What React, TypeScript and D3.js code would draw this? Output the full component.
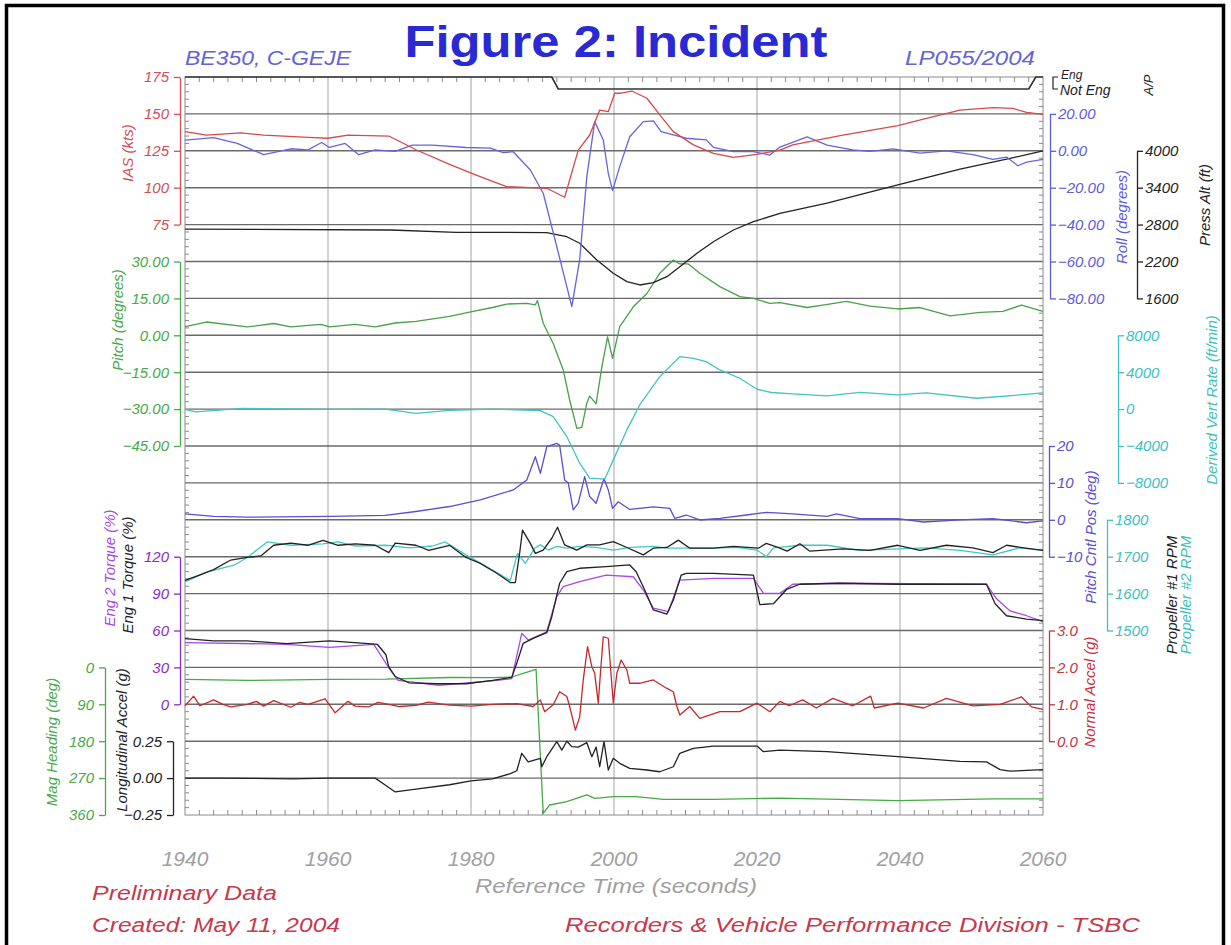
import React, { useEffect, useRef } from "react";
import * as d3 from "d3";

type Pt = [number, number];

// time (s) / value pairs
const iasData: Pt[] = [
  [1940, 138], [1943, 135.6], [1947.8, 137.2], [1951, 135.6], [1958, 133.9], [1960, 133.5],
  [1962.8, 135.6], [1968.5, 135], [1970.3, 130.6], [1972.3, 125.7], [1977, 115.8], [1980.3, 109.3],
  [1983, 104.3], [1985, 100.7], [1990.6, 99.6], [1993.1, 93.5], [1995, 125.5], [1996.6, 135.7],
  [1998, 152.6], [1999.2, 151.5], [2000.1, 164], [2001, 164], [2002.5, 165.5], [2004.6, 160.6],
  [2006.4, 149.3], [2008.3, 138], [2011.1, 129], [2013.9, 123.3], [2016.7, 120.6], [2020, 122.6],
  [2023.2, 125.5], [2025, 129], [2032, 135.6], [2039.7, 142.1], [2043.7, 147], [2048.4, 152.6],
  [2053, 154.3], [2055.8, 153.7], [2057.7, 151], [2060, 149.7],
];

const rollData: Pt[] = [
  [1940, 5.8], [1944, 7.1], [1947.3, 4.0], [1951, -2.1], [1954.8, 1.1], [1957.2, 0.5], [1959.1, 4.5],
  [1960.2, 1.8], [1962.4, 4.0], [1964.3, -2.1], [1966.6, 0.5], [1969.4, -0.3], [1971.8, 3.1],
  [1974.6, 3.1], [1979.3, 1.8], [1982.7, 1.4], [1984.5, -1.0], [1985.9, -0.5], [1988.3, -10.4],
  [1990.1, -23], [1992, -52], [1994.1, -84.5], [1995.2, -59], [1996.2, -14], [1997.3, 15.8],
  [1998.5, 5.9], [1999.2, -12.2], [1999.8, -21.6], [2000.8, -8.6], [2002.2, 7.6], [2004.1, 15.8],
  [2005.5, 16.2], [2006.6, 10.4], [2008.3, 8.6], [2010.1, 6.8], [2012.9, 5.9], [2013.9, 1.9],
  [2016.7, -0.5], [2019.5, -0.5], [2021.8, -2.3], [2023.2, 2.0], [2027, 7.6], [2029.8, 3.1],
  [2033.4, 0.5], [2035.8, -0.3], [2039, 1.1], [2042.8, -1.3], [2046.5, 0], [2050.2, -2.1],
  [2053, -4.7], [2054.9, -3.4], [2056.5, -8.1], [2057.7, -6.1], [2060, -4.7],
];

const altData: Pt[] = [
  [1940, 2728], [1968.8, 2712], [1977.9, 2675], [1983, 2675], [1990.6, 2668], [1993.4, 2603],
  [1995.2, 2496], [1997.6, 2224], [1999.9, 2008], [2001.8, 1872], [2003.6, 1818], [2005.5, 1855],
  [2007.4, 1953], [2009.2, 2115], [2011.6, 2333], [2013.9, 2522], [2016.7, 2712], [2019.5, 2847],
  [2023.2, 2984], [2029.8, 3148], [2039.7, 3447], [2048.4, 3701], [2055.4, 3875], [2060, 4000],
];

// 1 = engaged, 0 = not engaged
const apData: Pt[] = [[1940, 1], [1991.3, 1], [1992.2, 0], [2058, 0], [2059, 1], [2060, 1]];

const pitchData: Pt[] = [
  [1940, 3.5], [1943, 5.4], [1948.7, 3.4], [1952.4, 4.8], [1954.8, 3.4], [1959, 4.4], [1960.2, 3.4],
  [1963.8, 4.4], [1966.6, 3.4], [1969.4, 5.0], [1972.3, 5.7], [1977, 7.7], [1980.3, 9.7], [1983, 11.3],
  [1985, 12.7], [1987.8, 13], [1989, 12.4], [1989.3, 14.1], [1990.1, 4.9], [1991.5, -3.3],
  [1992.9, -14.1], [1993.8, -26.3], [1994.8, -37.8], [1995.5, -37.4], [1996.2, -27.6], [1996.6, -24.7],
  [1997.5, -27.9], [1998.3, -12.8], [1999.1, -0.6], [1999.8, -9.4], [2000.8, 3.5], [2002.7, 11.6],
  [2004.6, 17], [2006.4, 25.2], [2008.3, 30.6], [2009.2, 29], [2010.4, 29], [2012, 25.2],
  [2014.8, 19.8], [2017.6, 15.7], [2019.5, 15.0], [2021.8, 13], [2023.2, 13.3], [2027, 11.3],
  [2029.2, 12.3], [2032.5, 13.8], [2035.8, 11.9], [2039.7, 10.7], [2042.8, 11.3], [2047, 7.9],
  [2051.2, 9.3], [2054.4, 9.7], [2057, 12.3], [2060, 9.7],
];

const vertRateData: Pt[] = [
  [1940, -36], [1941.5, -300], [1948, 72], [1960, -36], [1968, 0], [1972.3, -458], [1977, -140],
  [1983, 0], [1989.7, -165], [1991.5, -815], [1993.4, -2980], [1995.2, -5862], [1996.6, -7487],
  [1998.7, -7595], [1999.9, -5505], [2001.8, -2256], [2003.6, 452], [2006.4, 3516], [2009.2, 5683],
  [2011.1, 5509], [2012.9, 5141], [2014.8, 4242], [2017.6, 3343], [2020, 2152], [2022, 1800],
  [2025, 1643], [2029.8, 1437], [2034.4, 1805], [2039.7, 1534], [2043.7, 1751], [2050.7, 1177],
  [2056.7, 1534], [2060, 1751],
];

const pitchCtlData: Pt[] = [
  [1940, 1.6], [1944, 0.95], [1948.7, 0.7], [1960.2, 0.95], [1968, 1.2], [1972.3, 2.25], [1977, 3.6],
  [1981.3, 5.4], [1985.9, 8.1], [1987.8, 10.8], [1989, 17.1], [1989.7, 12.6], [1990.6, 19.8],
  [1992, 20.7], [1992.4, 20.2], [1993.1, 10.8], [1993.6, 10], [1994.3, 2.7], [1995, 4.5],
  [1995.9, 11.7], [1996.6, 6.3], [1997.5, 4.5], [1998.6, 11.2], [1999.2, 8.1], [1999.8, 3.1],
  [2000.6, 4.9], [2002.2, 2.8], [2005.5, 3.5], [2007.8, 3.1], [2008.5, 0.4], [2010.1, 1.3],
  [2012, -0.05], [2014.8, 0.4], [2018.5, 1.3], [2021.3, 2.0], [2023.2, 1.8], [2025, 1.6],
  [2029.8, 0.95], [2031.1, 1.6], [2034.4, 0.3], [2039.7, 0.3], [2043.3, -0.6], [2048.4, 0],
  [2053, 0.3], [2057.7, -0.8], [2060, -0.3],
];

const prop1Data: Pt[] = [
  [1940, 1636], [1942.1, 1651], [1944, 1665], [1946.4, 1691], [1948.7, 1698], [1950.6, 1702],
  [1952.4, 1731], [1954.8, 1737], [1957.2, 1731], [1959.3, 1744], [1961.4, 1731], [1963.8, 1735],
  [1966.6, 1731], [1968.5, 1711], [1969.4, 1737], [1972.3, 1731], [1974.1, 1717], [1977, 1731],
  [1979.3, 1698], [1981.3, 1682], [1983.6, 1655], [1985.5, 1630], [1986.2, 1630], [1986.8, 1709],
  [1987.2, 1772], [1988.3, 1736], [1989, 1709], [1990.1, 1718], [1991.3, 1750], [1992.1, 1780],
  [1993.1, 1732], [1994.8, 1718], [1996.2, 1732], [1998, 1732], [1999.9, 1741], [2001.8, 1725],
  [2004.1, 1705], [2005.5, 1723], [2007.4, 1725], [2009, 1745], [2010.6, 1723], [2013.9, 1723],
  [2016.7, 1728], [2020.2, 1723], [2021.3, 1736], [2023.2, 1723], [2024.2, 1715], [2026, 1735],
  [2027.4, 1715], [2032, 1721], [2035.8, 1717], [2039.7, 1731], [2042.8, 1717], [2046.5, 1731],
  [2050.2, 1724], [2053, 1711], [2054.9, 1731], [2057.3, 1724], [2060, 1717],
];

const prop2Data: Pt[] = [
  [1940, 1632], [1943, 1658], [1947, 1678], [1948.7, 1698], [1951.5, 1740], [1954.8, 1731],
  [1959.3, 1735], [1961.4, 1740], [1963.8, 1729], [1968.1, 1731], [1971.4, 1724], [1974.6, 1729],
  [1976.4, 1740], [1979.3, 1705], [1983, 1664], [1985.5, 1636], [1986.5, 1709], [1987.6, 1682],
  [1988.9, 1723], [1989.7, 1732], [1990.8, 1718], [1992, 1728], [1993.4, 1723], [1995.2, 1728],
  [1997.5, 1725], [1999.9, 1718], [2002.2, 1725], [2005.5, 1728], [2007.4, 1723], [2009.7, 1723],
  [2013.9, 1723], [2017.2, 1725], [2020, 1718], [2021.3, 1700], [2022.3, 1724], [2026, 1731],
  [2029.8, 1731], [2034.4, 1717], [2039.7, 1721], [2043.7, 1724], [2048.4, 1717], [2053, 1705],
  [2056.7, 1724], [2060, 1717],
];

const eng1TorqueData: Pt[] = [
  [1940, 53.4], [1944, 51.5], [1948.7, 51.5], [1954.2, 49.4], [1960.2, 51.5], [1965.7, 49.4],
  [1966.9, 48.8], [1968.1, 40.3], [1968.5, 30.5], [1969.4, 22.6], [1971.3, 17.5], [1975.5, 16.7],
  [1979.3, 16.7], [1983, 19.4], [1985.7, 21.9], [1986.4, 33.3], [1987.3, 49.6], [1988.7, 53.6],
  [1990.6, 58.2], [1991.3, 71.2], [1992.4, 98.4], [1993.4, 107.8], [1995.2, 110.6], [1998.9, 111.9],
  [2002.2, 113.3], [2003.1, 107.8], [2004.3, 92.9], [2005.5, 76.7], [2007.4, 73.4], [2008.3, 84.8],
  [2009.4, 105.1], [2010.1, 106.5], [2013.9, 106.5], [2019.5, 105.1], [2020.4, 81], [2022.3, 81.8],
  [2024.2, 93.7], [2026, 97.6], [2031.5, 98.4], [2039.7, 97.6], [2052.1, 97.6], [2053.3, 81.8],
  [2054.9, 72], [2057.7, 69.2], [2060, 68],
];

const eng2TorqueData: Pt[] = [
  [1940, 50.2], [1954.2, 48.8], [1960.2, 46.3], [1966.4, 48.8], [1968.5, 29.7], [1969.8, 19.4],
  [1975.5, 15.5], [1983, 19], [1985.7, 20.8], [1987.1, 57.7], [1988, 52.3], [1990.6, 59],
  [1992, 87.5], [1992.9, 95.6], [1995.2, 99.7], [1998.9, 105.1], [2002.7, 103.7], [2004.1, 92.9],
  [2005.5, 78.1], [2007.6, 75.3], [2009.2, 101], [2013.9, 102.4], [2019.5, 102.4], [2020.9, 90.2],
  [2023.2, 90.2], [2025, 97.6], [2031.5, 98.4], [2052.1, 97.6], [2053.5, 85.8], [2055.4, 75.9],
  [2057.7, 72], [2060, 67.2],
];

const magHeadingData: Pt[] = [
  [1940, 29.3], [1948.7, 31.7], [1960.2, 29.3], [1968.1, 28.8], [1977, 24.6], [1983, 25],
  [1985.7, 23.4], [1987.3, 14.4], [1989.1, 4.6], [1990.1, 356], [1991, 335.6], [1993.4, 327.5],
  [1996.2, 311], [1997.3, 319.3], [1999.9, 315.4], [2003.1, 315.4], [2006.9, 321.7], [2013.9, 321.7],
  [2023.2, 319], [2039.7, 325], [2053, 320.5], [2060, 320.5],
];

const normalAccelData: Pt[] = [
  [1940, 0.96], [1941.2, 1.22], [1942.1, 0.96], [1944, 1.12], [1945.3, 1.0], [1946.4, 0.93],
  [1948.7, 1.0], [1950, 1.08], [1951, 0.95], [1952.4, 1.1], [1954.8, 0.92], [1956, 1.05],
  [1957.2, 1.0], [1959.6, 1.15], [1961, 0.77], [1962.8, 1.08], [1963.8, 0.95], [1965.7, 0.93],
  [1967, 1.05], [1968.5, 1.0], [1970, 0.94], [1972.3, 0.97], [1974, 1.06], [1977, 0.98],
  [1980, 0.95], [1983, 1.0], [1986.4, 1.02], [1988.7, 0.94], [1989.7, 1.12], [1990.3, 0.8],
  [1991.5, 0.99], [1992.4, 1.34], [1993.4, 1.21], [1993.8, 0.94], [1994.6, 0.3], [1995.2, 0.66],
  [1995.7, 1.66], [1996.3, 2.56], [1996.9, 2.02], [1997.3, 1.84], [1997.8, 1.03], [1998.1, 1.84],
  [1998.5, 2.83], [1999.2, 2.79], [1999.9, 1.03], [2000.4, 1.84], [2001, 2.2], [2001.8, 1.93],
  [2002.2, 1.57], [2003.6, 1.57], [2005.5, 1.66], [2007.4, 1.43], [2008.3, 1.34], [2008.8, 0.94],
  [2009.2, 0.71], [2010.6, 0.94], [2012, 0.62], [2014.8, 0.8], [2017.6, 0.8], [2020, 1.03],
  [2021.8, 0.8], [2023.2, 1.08], [2024.5, 0.96], [2026.4, 1.12], [2028.3, 0.9], [2030.6, 1.16],
  [2033.4, 0.96], [2035.9, 1.22], [2036.4, 0.9], [2039.7, 1.03], [2043.3, 0.9], [2046.5, 1.16],
  [2050.2, 0.96], [2054, 1.0], [2057, 1.2], [2058.4, 0.93], [2060, 0.86],
];

const longAccelData: Pt[] = [
  [1940, 0], [1945, 0.0], [1955, -0.005], [1960, 0.0], [1966.6, 0.0], [1968.1, -0.05],
  [1969.4, -0.094], [1972.3, -0.075], [1977, -0.045], [1980, -0.019], [1983, -0.005], [1985.5, 0.03],
  [1986.4, 0.05], [1987.1, 0.168], [1988, 0.11], [1989.7, 0.134], [1989.9, 0.077], [1990.6, 0.145],
  [1992, 0.247], [1992.7, 0.19], [1993.4, 0.25], [1994.1, 0.213], [1995, 0.21], [1996.2, 0.24],
  [1996.9, 0.145], [1997.5, 0.21], [1998, 0.077], [1998.6, 0.247], [1999.2, 0.055], [1999.9, 0.134],
  [2000.8, 0.1], [2002.2, 0.066], [2004.6, 0.055], [2006.4, 0.043], [2008.3, 0.077], [2009.2, 0.168],
  [2011.1, 0.202], [2013.9, 0.217], [2020, 0.217], [2020.9, 0.179], [2023.2, 0.19], [2029.8, 0.18],
  [2039.7, 0.146], [2048.4, 0.113], [2052.1, 0.11], [2054, 0.057], [2055.4, 0.047], [2060, 0.057],
];

const timeTicks = [1940, 1960, 1980, 2000, 2020, 2040, 2060];
const iasTicks = [75, 100, 125, 150, 175];
const rollTicks = [-80, -60, -40, -20, 0, 20];
const altTicks = [1600, 2200, 2800, 3400, 4000];
const pitchTicks = [-45, -30, -15, 0, 15, 30];
const vertRateTicks = [-8000, -4000, 0, 4000, 8000];
const pitchCtlTicks = [-10, 0, 10, 20];
const rpmTicks = [1500, 1600, 1700, 1800];
const torqueTicks = [0, 30, 60, 90, 120];
const normalAccelTicks = [0, 1, 2, 3];
const magHeadingTicks = [0, 90, 180, 270, 360];
const longAccelTicks = [-0.25, 0, 0.25];

const FONT = "'Liberation Sans', Arial, sans-serif";

const App = () => {
  const ref = useRef<SVGSVGElement>(null);

  useEffect(() => {
    const svg = d3.select(ref.current);
    svg.selectAll("*").remove();

    const left = 185;
    const right = 1043;
    const top = 77;
    const rowH = 36.9;
    const row = (k: number) => top + k * rowH;
    const bottom = row(20);

    const x = d3.scaleLinear().domain([1940, 2060]).range([left, right]);

    // frame
    svg.append("rect").attr("x", 6.5).attr("y", 5.5).attr("width", 1217).attr("height", 1000)
      .attr("fill", "none").attr("stroke", "#000").attr("stroke-width", 3.5);

    // grid
    const grid = svg.append("g");
    timeTicks.slice(1, -1).forEach((t) => {
      grid.append("line").attr("x1", x(t)).attr("x2", x(t)).attr("y1", top).attr("y2", bottom)
        .attr("stroke", "#b4b4b4").attr("stroke-width", 1.2);
    });
    d3.range(1, 20).forEach((k) => {
      grid.append("line").attr("x1", left).attr("x2", right).attr("y1", row(k)).attr("y2", row(k))
        .attr("stroke", "#6a6a6a").attr("stroke-width", 1.4);
    });
    grid.append("rect").attr("x", left).attr("y", top).attr("width", right - left).attr("height", bottom - top)
      .attr("fill", "none").attr("stroke", "#8a8a8a").attr("stroke-width", 1);
    // border ticks
    d3.range(0, 100).forEach((i) => {
      const yy = top + (i * rowH) / 5;
      const len = i % 5 === 0 ? 0 : 4;
      if (len) {
        grid.append("line").attr("x1", left).attr("x2", left + len).attr("y1", yy).attr("y2", yy).attr("stroke", "#8a8a8a");
        grid.append("line").attr("x1", right).attr("x2", right - len).attr("y1", yy).attr("y2", yy).attr("stroke", "#8a8a8a");
      }
    });
    d3.range(1942, 2060, 2).forEach((t) => {
      const len = t % 20 === 0 ? 0 : 5;
      if (len) {
        grid.append("line").attr("x1", x(t)).attr("x2", x(t)).attr("y1", top).attr("y2", top + len).attr("stroke", "#8a8a8a");
        grid.append("line").attr("x1", x(t)).attr("x2", x(t)).attr("y1", bottom).attr("y2", bottom - len).attr("stroke", "#8a8a8a");
      }
    });

    // scales
    const yIas = d3.scaleLinear().domain([75, 175]).range([row(4), row(0)]);
    const yRoll = d3.scaleLinear().domain([-80, 20]).range([row(6), row(1)]);
    const yAlt = d3.scaleLinear().domain([1600, 4000]).range([row(6), row(2)]);
    const yAp = d3.scaleLinear().domain([0, 1]).range([89, top]);
    const yPitch = d3.scaleLinear().domain([-45, 30]).range([row(10), row(5)]);
    const yVr = d3.scaleLinear().domain([-8000, 8000]).range([row(11), row(7)]);
    const yPcp = d3.scaleLinear().domain([-10, 20]).range([row(13), row(10)]);
    const yRpm = d3.scaleLinear().domain([1500, 1800]).range([row(15), row(12)]);
    const yTq = d3.scaleLinear().domain([0, 120]).range([row(17), row(13)]);
    const yNa = d3.scaleLinear().domain([0, 3]).range([row(18), row(15)]);
    const yMh = d3.scaleLinear().domain([0, 360]).range([row(16), row(20)]);
    const yLa = d3.scaleLinear().domain([-0.25, 0.25]).range([row(20), row(18)]);

    const axis = (
      scale: d3.ScaleLinear<number, number>,
      ax: number,
      side: "left" | "right",
      ticks: number[],
      minorStep: number,
      fmt: (d: number) => string,
      color: string
    ) => {
      const g = svg.append("g").attr("transform", `translate(${ax},0)`);
      const [lo, hi] = scale.domain();
      const minor = d3.range(lo, hi + minorStep / 2, minorStep);
      const mk = side === "left" ? d3.axisLeft(scale) : d3.axisRight(scale);
      g.call(mk.tickValues(minor).tickFormat(() => "").tickSize(3).tickSizeOuter(0));
      const mk2 = side === "left" ? d3.axisLeft(scale) : d3.axisRight(scale);
      g.call(
        mk2.tickValues(ticks).tickFormat((d) => fmt(d as number)).tickSize(6).tickSizeOuter(0)
          .tickPadding(side === "left" ? 5 : 2)
      );
      g.selectAll("path, line").attr("stroke", color).attr("stroke-width", 1.3);
      g.selectAll("text").attr("fill", color).attr("font-size", 15).attr("font-style", "italic")
        .attr("font-family", FONT);
      g.attr("font-family", FONT);
    };

    const f0 = d3.format("d");
    const f2 = d3.format(".2f");
    const f1 = d3.format(".1f");

    axis(yIas, 180, "left", iasTicks, 5, f0, "#d05058");
    axis(yPitch, 180, "left", pitchTicks, 3, f2, "#4aa84a");
    axis(yTq, 180, "left", torqueTicks, 6, f0, "#8a2cc8");
    axis(yLa, 173, "left", longAccelTicks, 0.05, f2, "#222");
    axis(yMh, 105, "left", magHeadingTicks, 18, f0, "#4aa84a");
    axis(yRoll, 1050, "right", rollTicks, 5, f2, "#5c5ce0");
    axis(yAlt, 1137, "right", altTicks, 150, f0, "#222");
    axis(yVr, 1118, "right", vertRateTicks, 1000, f0, "#3cc0c0");
    axis(yPcp, 1049, "right", pitchCtlTicks, 2, f0, "#5a50d0");
    axis(yRpm, 1107, "right", rpmTicks, 20, f0, "#3cc0c0");
    axis(yNa, 1049, "right", normalAccelTicks, 0.2, f1, "#c83040");

    // A/P bracket
    const ap = svg.append("g");
    ap.append("path").attr("d", `M1058,${top}H1053V89H1058`).attr("fill", "none").attr("stroke", "#222").attr("stroke-width", 1.2);

    // series
    const drawLine = (data: Pt[], y: d3.ScaleLinear<number, number>, color: string, w = 1.3) => {
      const line = d3.line<Pt>().x((d) => x(d[0])).y((d) => y(d[1]));
      svg.append("path").datum(data).attr("fill", "none").attr("stroke", color)
        .attr("stroke-width", w).attr("stroke-linejoin", "round").attr("d", line);
    };

    drawLine(apData, yAp, "#333", 1.6);
    drawLine(magHeadingData, yMh, "#44aa44");
    drawLine(longAccelData, yLa, "#222");
    drawLine(normalAccelData, yNa, "#c42a2a");
    drawLine(eng2TorqueData, yTq, "#a848e8");
    drawLine(eng1TorqueData, yTq, "#222");
    drawLine(prop2Data, yRpm, "#40c8c8");
    drawLine(prop1Data, yRpm, "#222");
    drawLine(pitchCtlData, yPcp, "#5a4ed4");
    drawLine(vertRateData, yVr, "#40c4c4");
    drawLine(pitchData, yPitch, "#48a048");
    drawLine(altData, yAlt, "#222");
    drawLine(rollData, yRoll, "#6464e0");
    drawLine(iasData, yIas, "#d84848");

    // x tick labels
    const xl = svg.append("g");
    timeTicks.forEach((t) => {
      xl.append("text").attr("x", x(t)).attr("y", 866).attr("text-anchor", "middle")
        .attr("font-size", 21).attr("font-style", "italic").attr("font-family", FONT)
        .attr("fill", "#a0a0a0").text(t);
    });

    // texts
    const txt = (
      s: string, tx: number, ty: number, size: number, color: string,
      opts: { anchor?: string; rotate?: boolean; weight?: string; italic?: boolean; len?: number } = {}
    ) => {
      const t = svg.append("text")
        .attr("transform", `translate(${tx},${ty})${opts.rotate ? " rotate(-90)" : ""}`)
        .attr("text-anchor", opts.anchor || "start")
        .attr("font-size", size).attr("font-family", FONT)
        .attr("font-style", opts.italic === false ? "normal" : "italic")
        .attr("font-weight", opts.weight || "normal")
        .attr("fill", color).text(s);
      if (opts.len) t.attr("textLength", opts.len).attr("lengthAdjust", "spacingAndGlyphs");
    };

    txt("Figure  2:  Incident", 616, 57, 44, "#2a2ad4", { anchor: "middle", weight: "bold", italic: false, len: 423 });
    txt("BE350,  C-GEJE", 185, 65, 20, "#6464d8", { len: 166 });
    txt("LP055/2004", 1035, 65, 20, "#6464d8", { anchor: "end", len: 130 });

    txt("Reference Time (seconds)", 616, 893, 21, "#a0a0a0", { anchor: "middle", len: 282 });
    txt("Preliminary Data", 92, 900, 20, "#c8384a", { len: 185 });
    txt("Created: May 11, 2004", 92, 932, 20, "#c8384a", { len: 248 });
    txt("Recorders & Vehicle Performance Division - TSBC", 1140, 932, 20, "#c8384a", { anchor: "end", len: 575 });

    // left axis titles
    txt("IAS (kts)", 133, 153, 15, "#d05058", { anchor: "middle", rotate: true });
    txt("Pitch (degrees)", 123, 320, 15, "#4aa84a", { anchor: "middle", rotate: true });
    txt("Eng 2 Torque (%)", 115, 568, 15, "#a848e8", { anchor: "middle", rotate: true });
    txt("Eng 1 Torque (%)", 133, 575, 15, "#222", { anchor: "middle", rotate: true });
    txt("Mag Heading (deg)", 57, 742, 15, "#4aa84a", { anchor: "middle", rotate: true });
    txt("Longitudinal Accel (g)", 127, 740, 15, "#222", { anchor: "middle", rotate: true });

    // right axis titles
    txt("Eng", 1061, 79, 12, "#222");
    txt("Not  Eng", 1060, 95, 14, "#222");
    txt("A/P", 1153, 85, 13, "#222", { anchor: "middle", rotate: true });
    txt("Roll (degrees)", 1127, 217, 15, "#5c5ce0", { anchor: "middle", rotate: true });
    txt("Press Alt (ft)", 1210, 205, 15, "#222", { anchor: "middle", rotate: true });
    txt("Derived Vert Rate (ft/min)", 1217, 400, 15, "#3cc0c0", { anchor: "middle", rotate: true });
    txt("Pitch Cntl Pos (deg)", 1096, 537, 15, "#5a50d0", { anchor: "middle", rotate: true });
    txt("Propeller #1 RPM", 1177, 595, 15, "#222", { anchor: "middle", rotate: true });
    txt("Propeller #2 RPM", 1191, 595, 15, "#3cc0c0", { anchor: "middle", rotate: true });
    txt("Normal Accel (g)", 1095, 692, 15, "#c83040", { anchor: "middle", rotate: true });
  });

  return (
    <svg
      ref={ref}
      width={1231}
      height={945}
      style={{ position: "absolute", left: 0, top: 0, background: "#fff" }}
    />
  );
};

export default App;
